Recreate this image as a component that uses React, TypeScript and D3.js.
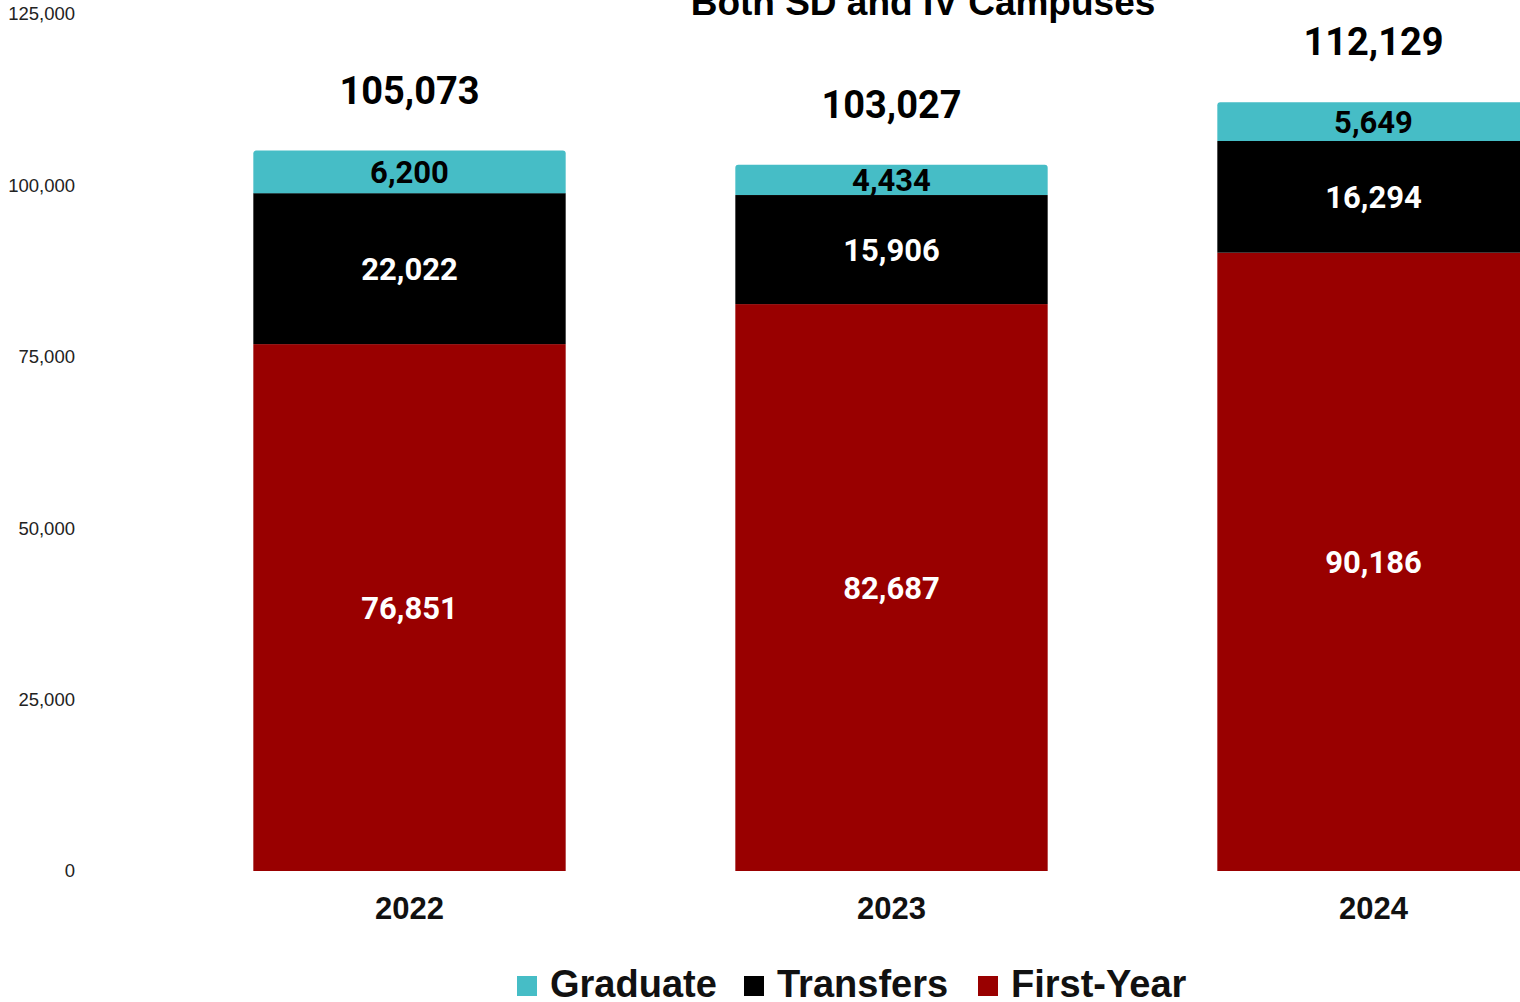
import React from "react";
import * as d3 from "d3";

const years = ["2022", "2023", "2024"];
const firstYear = [76851, 82687, 90186];
const transfers = [22022, 15906, 16294];
const graduate = [6200, 4434, 5649];
const totals = [105073, 103027, 112129];
const yTicks = [0, 25000, 50000, 75000, 100000, 125000];
const seriesNames = ["Graduate", "Transfers", "First-Year"];
const seriesColors = ["#46BDC6", "#000000", "#990000"];
const labelColors = ["#000000", "#ffffff", "#ffffff"];
const title = "Both SD and IV Campuses";

const W = 1520;
const H = 1002;

export default function App() {
  const x = d3
    .scaleBand<string>()
    .domain(years)
    .range([168.5, 168.5 + 1446])
    .paddingInner(170 / 483)
    .paddingOuter(85 / 483);
  const y = d3.scaleLinear().domain([0, 125000]).range([871, 14]);
  const fmt = d3.format(",");

  const rows = years.map((yr, i) => ({
    year: yr,
    "First-Year": firstYear[i],
    Transfers: transfers[i],
    Graduate: graduate[i],
  }));
  const stack = d3.stack<any>().keys(["First-Year", "Transfers", "Graduate"]);
  const stacked = stack(rows);

  const bw = x.bandwidth();
  const r = 3;

  const legendItems = [
    { name: seriesNames[0], color: seriesColors[0], sx: 517, tx: 550 },
    { name: seriesNames[1], color: seriesColors[1], sx: 744, tx: 777 },
    { name: seriesNames[2], color: seriesColors[2], sx: 978, tx: 1011 },
  ];

  return (
    <svg
      width={W}
      height={H}
      style={{ position: "absolute", left: 0, top: 0, background: "#fff" }}
    >
      <text
        x={923}
        y={15}
        textAnchor="middle"
        fontFamily="Liberation Sans, Arial, sans-serif"
        fontWeight="bold"
        fontSize={37}
        fill="#000"
      >
        {title}
      </text>

      {yTicks.map((t) => (
        <text
          key={t}
          x={75}
          y={y(t)}
          dy="0.35em"
          textAnchor="end"
          fontFamily="Liberation Sans, Arial, sans-serif"
          fontSize={18.5}
          fill="#222"
        >
          {fmt(t)}
        </text>
      ))}

      {stacked.map((layer) => {
        const key = layer.key;
        const si = seriesNames.indexOf(key);
        return (
          <g key={key}>
            {layer.map((d, i) => {
              const x0 = x(years[i])!;
              const yTop = y(d[1]);
              const yBot = y(d[0]);
              if (key === "Graduate") {
                const p = `M${x0},${yBot} L${x0},${yTop + r} Q${x0},${yTop} ${x0 + r},${yTop} L${x0 + bw - r},${yTop} Q${x0 + bw},${yTop} ${x0 + bw},${yTop + r} L${x0 + bw},${yBot} Z`;
                return <path key={i} d={p} fill={seriesColors[si]} />;
              }
              return (
                <rect
                  key={i}
                  x={x0}
                  y={yTop}
                  width={bw}
                  height={yBot - yTop}
                  fill={seriesColors[si]}
                />
              );
            })}
            {layer.map((d, i) => (
              <text
                key={"l" + i}
                x={x(years[i])! + bw / 2}
                y={(y(d[0]) + y(d[1])) / 2}
                dy="0.36em"
                textAnchor="middle"
                fontFamily="Roboto, sans-serif"
                fontWeight="bold"
                fontSize={31}
                fill={labelColors[si]}
              >
                {fmt(d[1] - d[0])}
              </text>
            ))}
          </g>
        );
      })}

      {years.map((yr, i) => (
        <text
          key={"t" + yr}
          x={x(yr)! + bw / 2}
          y={y(totals[i]) - 47}
          textAnchor="middle"
          fontFamily="Roboto, sans-serif"
          fontWeight="bold"
          fontSize={38}
          fill="#000"
        >
          {fmt(totals[i])}
        </text>
      ))}

      {years.map((yr) => (
        <text
          key={"x" + yr}
          x={x(yr)! + bw / 2}
          y={919}
          textAnchor="middle"
          fontFamily="Liberation Sans, Arial, sans-serif"
          fontWeight="bold"
          fontSize={31}
          fill="#111"
        >
          {yr}
        </text>
      ))}

      {legendItems.map((it) => (
        <g key={it.name}>
          <rect x={it.sx} y={976} width={20} height={20} fill={it.color} />
          <text
            x={it.tx}
            y={997}
            fontFamily="Liberation Sans, Arial, sans-serif"
            fontWeight="bold"
            fontSize={38}
            fill="#111"
          >
            {it.name}
          </text>
        </g>
      ))}
    </svg>
  );
}
